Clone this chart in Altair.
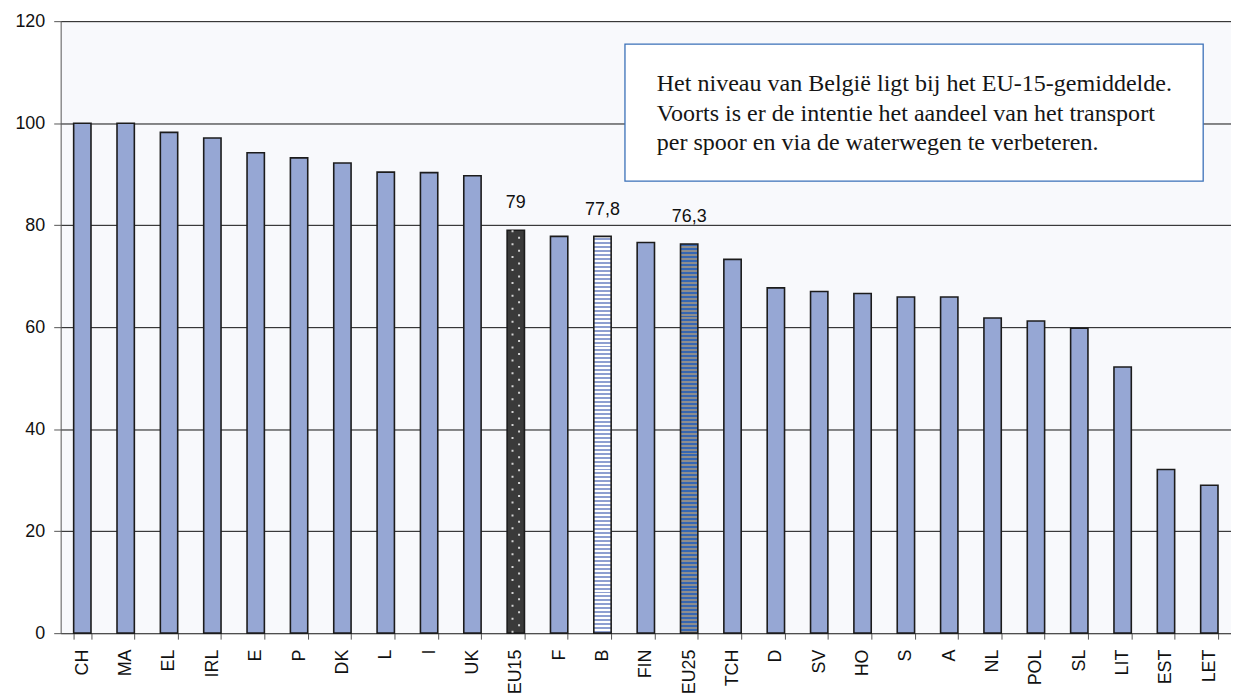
import altair as alt
import pandas as pd

categories = ["CH", "MA", "EL", "IRL", "E", "P", "DK", "L", "I", "UK", "EU15", "F", "B",
              "FIN", "EU25", "TCH", "D", "SV", "HO", "S", "A", "NL", "POL", "SL", "LIT",
              "EST", "LET"]
values = [100, 100, 98.2, 97.1, 94.2, 93.2, 92.2, 90.4, 90.3, 89.7, 79, 77.8, 77.8,
          76.6, 76.3, 73.3, 67.7, 67.0, 66.6, 65.9, 65.9, 61.8, 61.2, 59.8, 52.2,
          32.1, 29.0]
label_cats = ["EU15", "B", "EU25"]
label_texts = ["79", "77,8", "76,3"]
note_lines = [
    "Het niveau van België ligt bij het EU-15-gemiddelde.",
    "Voorts is er de intentie het aandeel van het transport",
    "per spoor en via de waterwegen te verbeteren.",
]
y_ticks = [0, 20, 40, 60, 80, 100, 120]

df = pd.DataFrame({"cat": categories, "val": values})
lab_df = pd.DataFrame({
    "cat": label_cats,
    "label": label_texts,
    "val": [values[categories.index(c)] for c in label_cats],
})

BAR = "#96A7D4"
EDGE = "#1c1c1c"


def stripes(c1, c2, n):
    stops = []
    for k in range(n):
        a, m, b = k / n, (k + 0.5) / n, (k + 1) / n
        stops += [alt.GradientStop(color=c1, offset=a), alt.GradientStop(color=c1, offset=m),
                  alt.GradientStop(color=c2, offset=m), alt.GradientStop(color=c2, offset=b)]
    return alt.LinearGradient(gradient="linear", stops=stops, x1=0, x2=0, y1=0, y2=1)


x_enc = alt.X("cat:N", sort=categories,
              scale=alt.Scale(domain=categories, paddingInner=0.6, paddingOuter=0.3),
              axis=alt.Axis(title=None, labelAngle=-90, labelFont="Liberation Sans",
                            labelFontSize=18, labelColor="#111", labelPadding=10,
                            tickSize=6, tickBand="extent", tickColor="#555",
                            domainColor="#555", grid=False))
y_enc = alt.Y("val:Q", scale=alt.Scale(domain=[0, 120], nice=False),
              axis=alt.Axis(title=None, values=y_ticks, grid=True, gridColor="#111",
                            gridWidth=1, tickSize=7, tickColor="#555", domainColor="#555",
                            labelFont="Liberation Sans", labelFontSize=18,
                            labelColor="#111", labelPadding=9))

base = alt.Chart(df)
special = ["EU15", "B", "EU25"]

plain = base.transform_filter({"not": {"field": "cat", "oneOf": special}}).mark_bar(
    fill=BAR, stroke=EDGE, strokeWidth=1.6).encode(x=x_enc, y=y_enc)
eu15 = base.transform_filter(alt.datum.cat == "EU15").mark_bar(
    fill="#3a3a3a", stroke=EDGE, strokeWidth=1.6).encode(x=x_enc, y=y_enc)
bel = base.transform_filter(alt.datum.cat == "B").mark_bar(
    fill=stripes("#ffffff", "#8E9FD1", 100), stroke=EDGE, strokeWidth=1.6).encode(x=x_enc, y=y_enc)
eu25 = base.transform_filter(alt.datum.cat == "EU25").mark_bar(
    fill=stripes("#3566B3", "#8E8E8E", 98), stroke=EDGE, strokeWidth=1.6).encode(x=x_enc, y=y_enc)

# dotted texture of the EU15 bar, drawn as two dashed rules
dots_a = base.transform_filter(alt.datum.cat == "EU15").mark_rule(
    color="#d4d4d4", strokeWidth=2, strokeDash=[2, 11], xOffset=-3.3
).encode(x=x_enc, y=alt.Y("val:Q", scale=alt.Scale(domain=[0, 120], nice=False)),
         y2=alt.datum(0))
dots_b = base.transform_filter(alt.datum.cat == "EU15").mark_rule(
    color="#d4d4d4", strokeWidth=2, strokeDash=[2, 11], strokeDashOffset=6.5, xOffset=3.3
).encode(x=x_enc, y=alt.Y("val:Q", scale=alt.Scale(domain=[0, 120], nice=False)),
         y2=alt.datum(0))

labels = alt.Chart(lab_df).mark_text(
    font="Liberation Sans", fontSize=18, color="#111", baseline="alphabetic", dy=-22
).encode(x=x_enc, y=y_enc, text="label:N")

box_df = pd.DataFrame({"k": [0]})
box = alt.Chart(box_df).mark_rect(fill="white", stroke="#3A70B8", strokeWidth=1.3).encode(
    x=alt.value(568), x2=alt.value(1150), y=alt.value(23), y2=alt.value(161))
note = alt.Chart(box_df).mark_text(
    text=note_lines, font="Liberation Serif", fontSize=24.2, lineHeight=30,
    align="left", baseline="top", color="#151515").encode(x=alt.value(600), y=alt.value(51))

chart = alt.layer(plain, eu15, dots_a, dots_b, bel, eu25, labels, box, note).properties(
    width=1178, height=616,
    autosize=alt.AutoSizeParams(type="none"),
    padding={"left": 53, "top": 11, "right": 0, "bottom": 63},
    background="white",
).configure_view(fill="#F8F9FC", stroke="transparent")

chart.save("out.html", embed_options={"renderer": "svg", "actions": False})
